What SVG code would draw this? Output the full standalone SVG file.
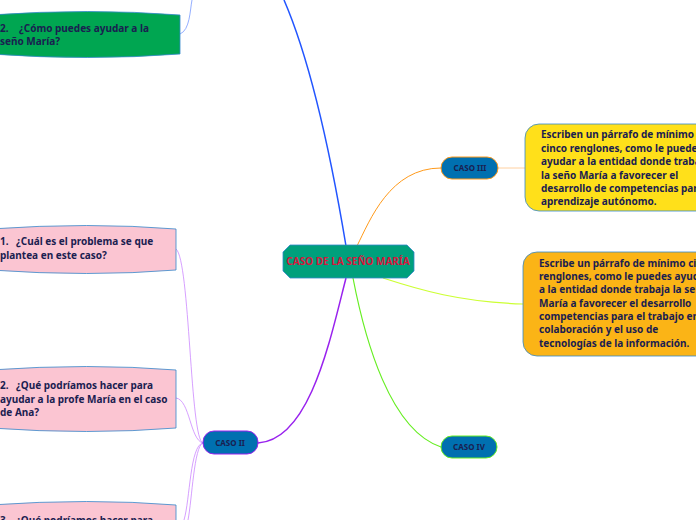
<svg xmlns="http://www.w3.org/2000/svg" width="696" height="520" viewBox="0 0 696 520">
<style>
text{font-family:"Noto Sans","Open Sans",sans-serif;font-weight:bold;font-size:10px;fill:#1a2050}
.s{font-size:8px}
</style>
<rect width="696" height="520" fill="#fff"/>
<g id="connectors">
<path d="M346 246 C330 150 310 60 284 0" stroke="#2255ff" stroke-width="1.5" fill="none"/>
<path d="M180 34 C190 30 190 10 192 0" stroke="#7799ff" stroke-width="0.8" fill="none"/>
<path d="M357 246 C370 220 390 168 441 168" stroke="#ff9a1a" stroke-width="1" fill="none"/>
<path d="M498 168 L525 168" stroke="#ffd0a0" stroke-width="1" fill="none"/>
<path d="M383 278 C420 290 460 302 523 304" stroke="#ccff33" stroke-width="1.2" fill="none"/>
<path d="M353 278 C365 340 390 430 441 447" stroke="#66ee22" stroke-width="1.2" fill="none"/>
<path d="M346 278 C330 340 310 440 258 443" stroke="#9922ee" stroke-width="1.5" fill="none"/>
<path d="M203 443 C190 440 190 260 176 249" stroke="#cc88ff" stroke-width="0.8" fill="none"/>
<path d="M203 443 C190 440 190 400 176 398" stroke="#cc88ff" stroke-width="0.8" fill="none"/>
<path d="M203 443 C190 445 190 500 184 520" stroke="#cc88ff" stroke-width="0.8" fill="none"/>
<path d="M203 443 C194 446 192 500 188 520" stroke="#cc88ff" stroke-width="0.8" fill="none"/>
</g>
<g id="root">
<path d="M283 252 L290 245 L407 245 L414 252 L414 271 L407 278 L290 278 L283 271 Z" fill="#00a07c" stroke="#3388cc" stroke-width="0.8"/>
<text x="348" y="265" text-anchor="middle" style="fill:#d6163c">CASO DE LA SEÑO MARÍA</text>
</g>
<g id="n-green">
<path d="M-10 15 Q90 8 180 15 L180 54 Q90 61 -10 54 Z" fill="#00a651" stroke="#3388cc" stroke-width="0.8"/>
<text x="0" y="32">2.<tspan x="19">¿Cómo puedes ayudar a la</tspan></text>
<text x="0" y="45">seño María?</text>
</g>
<g id="n-p1">
<path d="M-10 229 Q90 222 176 229 L176 270 Q90 277 -10 270 Z" fill="#fbc5d2" stroke="#3388cc" stroke-width="0.8"/>
<text x="0" y="245">1.<tspan x="16">¿Cuál es el problema se que</tspan></text>
<text x="0" y="259">plantea en este caso?</text>
</g>
<g id="n-p2">
<path d="M-10 370 Q90 363 176 370 L176 428 Q90 435 -10 428 Z" fill="#fbc5d2" stroke="#3388cc" stroke-width="0.8"/>
<text x="0" y="389">2.<tspan x="16">¿Qué podríamos hacer para</tspan></text>
<text x="0" y="403">ayudar a la profe María en el caso</text>
<text x="0" y="416">de Ana?</text>
</g>
<g id="n-p3">
<path d="M-10 505 Q90 498 176 505 L176 530 L-10 530 Z" fill="#fbc5d2" stroke="#3388cc" stroke-width="0.8"/>
<text x="0" y="524">3.<tspan x="16">¿Qué podríamos hacer para</tspan></text>
</g>
<g id="n-caso2">
<rect x="203" y="431" width="55" height="23" rx="11" fill="#0070b0" stroke="#9922ee" stroke-width="1"/>
<text x="230" y="446" text-anchor="middle" class="s">CASO II</text>
</g>
<g id="n-caso3">
<rect x="441" y="157" width="57" height="22" rx="11" fill="#0070b0" stroke="#ff9a1a" stroke-width="1"/>
<text x="470" y="171" text-anchor="middle" class="s">CASO III</text>
</g>
<g id="n-caso4">
<rect x="441" y="436" width="56" height="22" rx="11" fill="#0070b0" stroke="#66ee22" stroke-width="1"/>
<text x="469" y="450" text-anchor="middle" class="s">CASO IV</text>
</g>
<g id="n-yellow">
<rect x="525" y="124" width="190" height="87" rx="14" fill="#ffe01a" stroke="#3388cc" stroke-width="0.8"/>
<text x="541" y="138">Escriben un párrafo de mínimo</text>
<text x="541" y="152">cinco renglones, como le puedes</text>
<text x="541" y="165">ayudar a la entidad donde trabaja</text>
<text x="541" y="179">la seño María a favorecer el</text>
<text x="541" y="192">desarrollo de competencias para</text>
<text x="541" y="205">aprendizaje autónomo.</text>
</g>
<g id="n-orange">
<rect x="523" y="252" width="190" height="104" rx="14" fill="#fbb416" stroke="#3388cc" stroke-width="0.8"/>
<text x="539" y="267">Escribe un párrafo de mínimo cinco</text>
<text x="539" y="280">renglones, como le puedes ayudar</text>
<text x="539" y="293">a la entidad donde trabaja la seño</text>
<text x="539" y="307">María a favorecer el desarrollo</text>
<text x="539" y="320">competencias para el trabajo en</text>
<text x="539" y="333">colaboración y el uso de</text>
<text x="539" y="347">tecnologías de la información.</text>
</g>
</svg>
